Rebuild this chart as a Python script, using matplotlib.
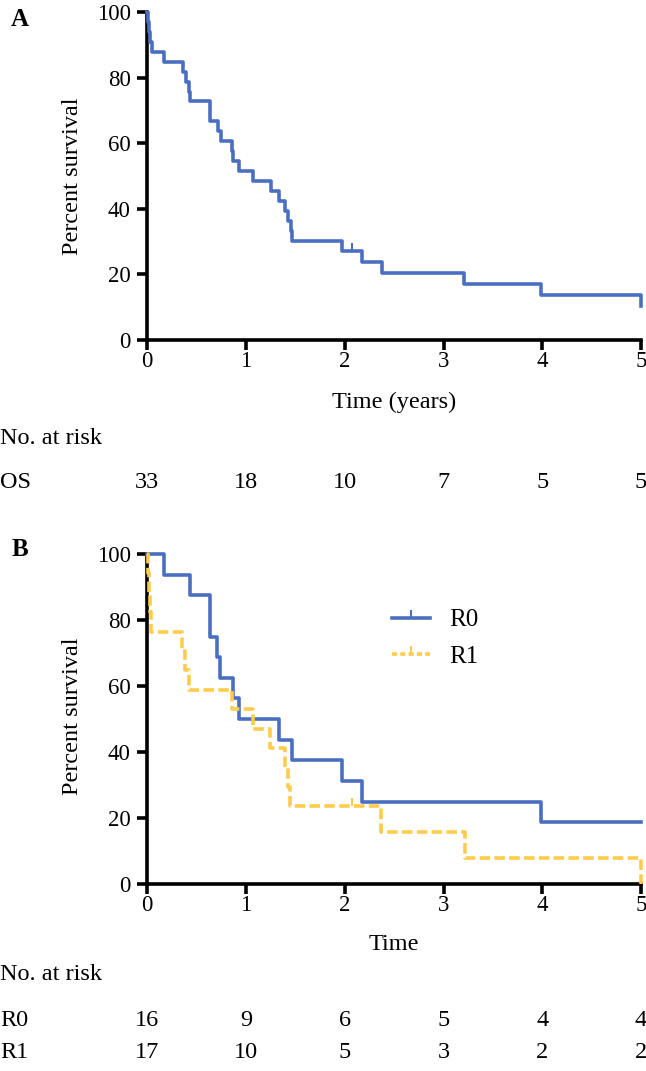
import matplotlib
matplotlib.use("Agg")
import matplotlib.pyplot as plt
from matplotlib.path import Path
from matplotlib.lines import Line2D
from matplotlib.transforms import blended_transform_factory

plt.rcParams['font.family'] = ['Liberation Serif', 'DejaVu Serif']

# ---------------- data ----------------
# Panel A: overall survival (Kaplan-Meier steps)
os_times = [0, 0.01, 0.02, 0.03, 0.05, 0.17, 0.36, 0.39, 0.42, 0.43, 0.63, 0.64,
            0.72, 0.75, 0.86, 0.87, 0.93, 1.07, 1.25, 1.33, 1.39, 1.43, 1.46,
            1.47, 1.97, 2.17, 2.38, 3.21, 3.99, 5.0]
os_surv = [100, 96.97, 93.94, 90.91, 87.88, 84.85, 81.82, 78.79, 75.76, 72.73,
           69.70, 66.67, 63.64, 60.61, 57.58, 54.55, 51.52, 48.48, 45.45, 42.42,
           39.39, 36.36, 33.33, 30.30, 27.27, 23.86, 20.45, 17.05, 13.64, 10.23]
os_censor_t = [2.07]
os_censor_s = [27.27]

# Panel B: R0 vs R1
r0_times = [0, 0.17, 0.43, 0.63, 0.64, 0.71, 0.74, 0.87, 0.93, 1.33, 1.47,
            1.97, 2.17, 3.99, 5.0]
r0_surv = [100, 93.75, 87.5, 81.25, 75, 68.75, 62.5, 56.25, 50, 43.75, 37.5,
           31.25, 25, 18.75, 18.75]
r1_times = [0, 0.01, 0.02, 0.03, 0.04, 0.35, 0.38, 0.42, 0.86, 1.07, 1.24,
            1.39, 1.42, 1.45, 2.37, 3.22, 5.0]
r1_surv = [100, 94.12, 88.24, 82.35, 76.47, 70.59, 64.71, 58.82, 52.94, 47.06,
           41.18, 35.29, 29.41, 23.53, 15.69, 7.84, 0]
r1_censor_t = [2.07]
r1_censor_s = [23.53]

risk_times = [0, 1, 2, 3, 4, 5]
risk_os = [33, 18, 10, 7, 5, 5]
risk_r0 = [16, 9, 6, 5, 4, 4]
risk_r1 = [17, 10, 5, 3, 2, 2]

series_labels = ['R0', 'R1']

# ---------------- style ----------------
BLUE = '#4A6FC1'
YELLOW = '#FFCB4C'
LW = 2.6
W, H = 646, 1071

def fy(y):
    return 1 - y / H

censor_marker = Path([(0, 0), (0, 1)])

fig = plt.figure(figsize=(W / 100, H / 100), dpi=100)

axA = fig.add_axes([147.3 / W, fy(340), (641 - 147.3) / W, 328 / H])
axB = fig.add_axes([147.3 / W, fy(884), (641 - 147.3) / W, 330 / H])

for ax in (axA, axB):
    ax.set_xlim(0, 5)
    ax.set_ylim(0, 100)
    ax.set_xticks(range(0, 6))
    ax.set_yticks(range(0, 101, 20))
    for s in ('top', 'right'):
        ax.spines[s].set_visible(False)
    for s in ('left', 'bottom'):
        ax.spines[s].set_linewidth(2.6)
    ax.tick_params(axis='both', direction='out', length=7, width=2.6,
                   labelsize=16.5)
    ax.tick_params(axis='x', pad=1)
    ax.tick_params(axis='y', pad=5)

# Panel A
axA.step(os_times, os_surv, where='post', color=BLUE, lw=LW, clip_on=False,
         zorder=3)
axA.plot(os_censor_t, os_censor_s, ls='none', marker=censor_marker, ms=11,
         mew=1.5, color=BLUE, zorder=3)

# Panel B
axB.step(r0_times, r0_surv, where='post', color=BLUE, lw=LW, clip_on=False,
         zorder=3)
axB.step(r1_times, r1_surv, where='post', color=YELLOW, lw=LW,
         dashes=(2.9, 1.2), clip_on=False, zorder=4)
axB.plot(r1_censor_t, r1_censor_s, ls='none', marker=censor_marker, ms=11,
         mew=1.5, color=YELLOW, zorder=3)

handles = [Line2D([], [], color=BLUE, lw=LW, marker=censor_marker, ms=11, mew=1.5),
           Line2D([], [], color=YELLOW, lw=LW, dashes=(1.4, 0.9),
                  marker=censor_marker, ms=11, mew=1.5)]
axB.legend(handles, series_labels, loc='upper left',
           bbox_to_anchor=(392 / W, fy(609)), bbox_transform=fig.transFigure,
           frameon=False, fontsize=18, handlelength=1.5, handletextpad=0.8,
           labelspacing=0.55, borderpad=0, borderaxespad=0, numpoints=1)

# Labels
TXT = 17.5
fig.text(20 / W, fy(19), 'A', fontsize=18, fontweight='bold', ha='center', va='center')
fig.text(20 / W, fy(549), 'B', fontsize=18, fontweight='bold', ha='center', va='center')
fig.text(73 / W, fy(176), 'Percent survival', rotation=90, fontsize=TXT,
         ha='center', va='center')
fig.text(73 / W, fy(716), 'Percent survival', rotation=90, fontsize=TXT,
         ha='center', va='center')
fig.text(394 / W, fy(402), 'Time (years)', fontsize=TXT, ha='center', va='center')
fig.text(394 / W, fy(944), 'Time', fontsize=TXT, ha='center', va='center')
fig.text(0, fy(438), 'No. at risk', fontsize=TXT, ha='left', va='center')
fig.text(0, fy(975), 'No. at risk', fontsize=TXT, ha='left', va='center')

# Risk tables
def risk_row(ax, label, values, ypix):
    fig.text(0, fy(ypix), label, fontsize=TXT, ha='left', va='center')
    tr = blended_transform_factory(ax.transData, fig.transFigure)
    for t, v in zip(risk_times, values):
        ax.text(t, fy(ypix), str(v), transform=tr, fontsize=TXT,
                ha='center', va='center', clip_on=False)

risk_row(axA, 'OS', risk_os, 482)
risk_row(axB, 'R0', risk_r0, 1020)
risk_row(axB, 'R1', risk_r1, 1053)

fig.savefig('out.png', dpi=100)
